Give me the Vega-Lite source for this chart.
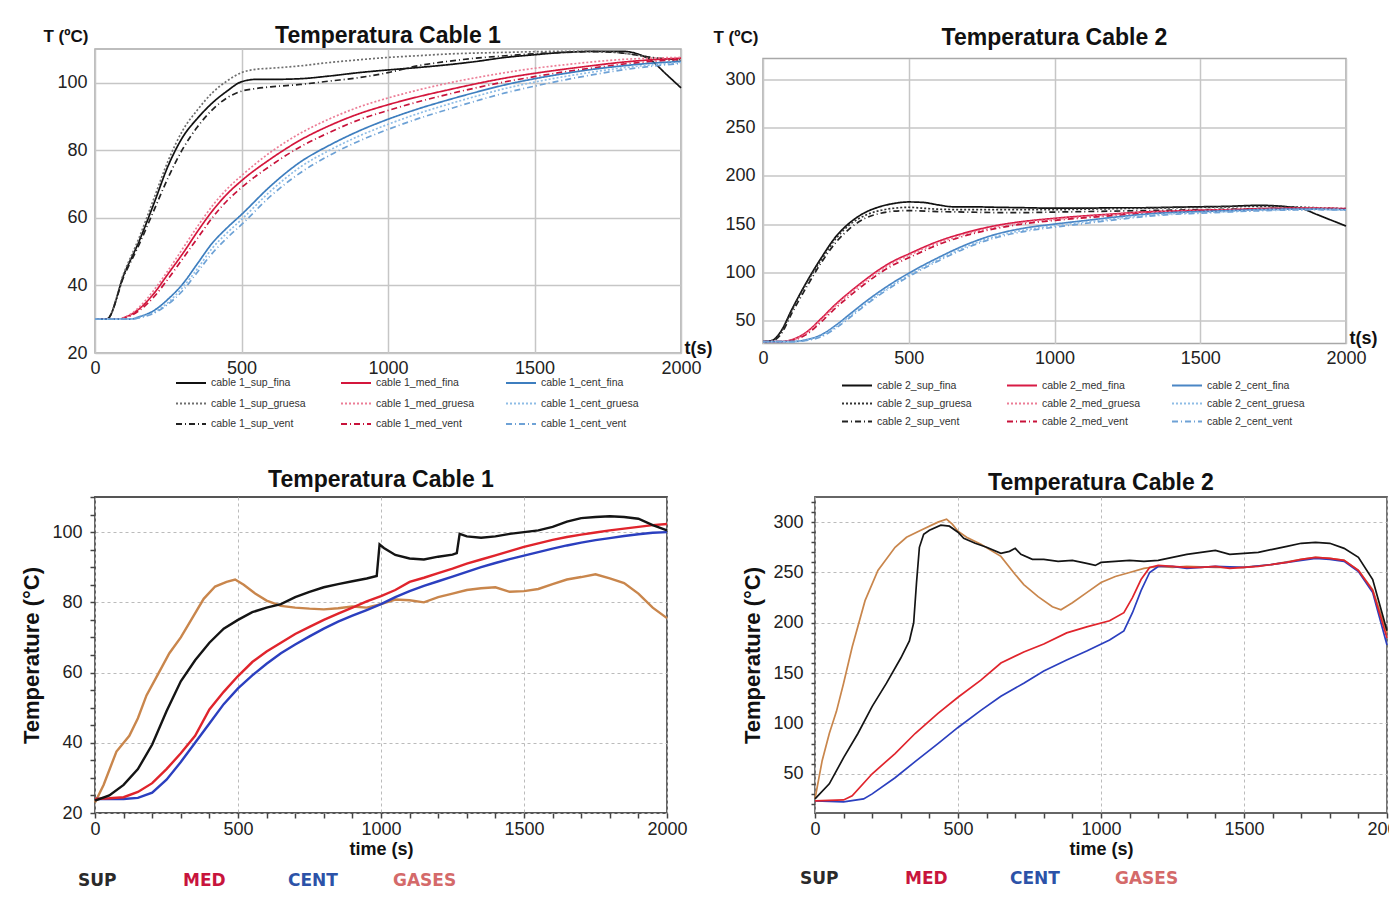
{
"$schema": "https://vega.github.io/schema/vega-lite/v6.json",
"background": "white",
"padding": {"left": 20, "top": 24, "right": 0, "bottom": 0},
"config": {
  "font": "Liberation Sans",
  "view": {"stroke": "#a8a8a8", "strokeWidth": 1.5},
  "axis": {"labelFont": "Liberation Sans", "labelFontSize": 18, "labelColor": "#222", "grid": true, "gridColor": "#c6c6c6", "gridWidth": 1.5, "domain": false, "ticks": false, "titleFont": "Liberation Sans", "titleFontWeight": "bold", "titleColor": "#111", "labelFlush": false, "labelOverlap": false},
  "title": {"font": "Liberation Sans", "fontSize": 23, "fontWeight": "bold", "color": "#111", "offset": 6},
  "line": {"strokeCap": "butt"}
},
"spacing": 36,
"resolve": {"scale": {"color": "independent", "strokeDash": "independent"}, "legend": {"color": "independent", "strokeDash": "independent"}},
"vconcat": [
 {"bounds": "flush", "spacing": 82, "center": true,
  "resolve": {"scale": {"color": "independent", "strokeDash": "independent"}, "legend": {"color": "independent", "strokeDash": "independent"}},
  "hconcat": [
  {"width": 586, "height": 304,
   "title": {"text": "Temperatura Cable 1", "offset": -21},
   "data": {"name": "tl"},
   "mark": {"type": "line", "strokeWidth": 1.7, "interpolate": "monotone"},
   "encoding": {
     "x": {"field": "t", "type": "quantitative", "scale": {"domain": [0, 2000], "nice": false}, "axis": {"values": [0, 500, 1000, 1500, 2000], "format": "d", "title": "t(s)", "titleX": 589, "titleY": -5, "titleAlign": "left", "titleBaseline": "middle", "titleFontSize": 18, "labelPadding": 6}},
     "y": {"field": "v", "type": "quantitative", "scale": {"domain": [20, 110], "nice": false, "zero": false}, "axis": {"values": [20, 40, 60, 80, 100], "title": "T (ºC)", "titleAngle": 0, "titleX": -52, "titleY": -13, "titleAlign": "left", "titleBaseline": "middle", "titleFontSize": 17, "labelPadding": 8}},
     "color": {"field": "s", "type": "nominal",
       "scale": {"domain": ["sup_fina", "sup_gruesa", "sup_vent", "med_fina", "med_gruesa", "med_vent", "cent_fina", "cent_gruesa", "cent_vent"], "range": ["#111111", "#6e6e6e", "#222222", "#d4163c", "#ec7d96", "#c8123a", "#3d7ebf", "#8fbde6", "#6ea2d6"]},
       "legend": {"orient": "none", "legendX": 80, "legendY": 327, "columns": 3, "title": null, "labelExpr": "'cable 1_' + datum.label", "labelFontSize": 10.5, "labelColor": "#333", "symbolType": "stroke", "symbolSize": 900, "symbolStrokeWidth": 1.8, "clipHeight": 14, "rowPadding": 6.5, "columnPadding": 30, "gridAlign": "all", "labelOffset": 4}},
     "strokeDash": {"field": "s", "type": "nominal",
       "scale": {"domain": ["sup_fina", "sup_gruesa", "sup_vent", "med_fina", "med_gruesa", "med_vent", "cent_fina", "cent_gruesa", "cent_vent"], "range": [[1, 0], [2, 2], [6, 3, 1, 3], [1, 0], [2, 2], [6, 3, 1, 3], [1, 0], [2, 2], [6, 3, 1, 3]]},
       "legend": {"orient": "none", "legendX": 80, "legendY": 327, "columns": 3, "title": null, "labelExpr": "'cable 1_' + datum.label", "labelFontSize": 10.5, "labelColor": "#333", "symbolType": "stroke", "symbolSize": 900, "symbolStrokeWidth": 1.8, "clipHeight": 14, "rowPadding": 6.5, "columnPadding": 30, "gridAlign": "all", "labelOffset": 4}}
   }
  },
  {"width": 583, "height": 285,
   "title": {"text": "Temperatura Cable 2", "offset": -21},
   "data": {"name": "tr"},
   "mark": {"type": "line", "strokeWidth": 1.7, "interpolate": "monotone"},
   "encoding": {
     "x": {"field": "t", "type": "quantitative", "scale": {"domain": [0, 2000], "nice": false}, "axis": {"values": [0, 500, 1000, 1500, 2000], "format": "d", "title": "t(s)", "titleX": 586, "titleY": -5, "titleAlign": "left", "titleBaseline": "middle", "titleFontSize": 18, "labelPadding": 6}},
     "y": {"field": "v", "type": "quantitative", "scale": {"domain": [26, 322], "nice": false, "zero": false}, "axis": {"values": [50, 100, 150, 200, 250, 300], "title": "T (ºC)", "titleAngle": 0, "titleX": -50, "titleY": -21, "titleAlign": "left", "titleBaseline": "middle", "titleFontSize": 17, "labelPadding": 8}},
     "color": {"field": "s", "type": "nominal",
       "scale": {"domain": ["sup_fina", "sup_gruesa", "sup_vent", "med_fina", "med_gruesa", "med_vent", "cent_fina", "cent_gruesa", "cent_vent"], "range": ["#111111", "#333333", "#222222", "#d81b45", "#ec7d96", "#c8123a", "#4a86c5", "#8fbde6", "#6ea2d6"]},
       "legend": {"orient": "none", "legendX": 78, "legendY": 320, "columns": 3, "title": null, "labelExpr": "'cable 2_' + datum.label", "labelFontSize": 10.5, "labelColor": "#333", "symbolType": "stroke", "symbolSize": 900, "symbolStrokeWidth": 1.8, "clipHeight": 14, "rowPadding": 4, "columnPadding": 30, "gridAlign": "all", "labelOffset": 4}},
     "strokeDash": {"field": "s", "type": "nominal",
       "scale": {"domain": ["sup_fina", "sup_gruesa", "sup_vent", "med_fina", "med_gruesa", "med_vent", "cent_fina", "cent_gruesa", "cent_vent"], "range": [[1, 0], [2, 2], [6, 3, 1, 3], [1, 0], [2, 2], [6, 3, 1, 3], [1, 0], [2, 2], [6, 3, 1, 3]]},
       "legend": {"orient": "none", "legendX": 78, "legendY": 320, "columns": 3, "title": null, "labelExpr": "'cable 2_' + datum.label", "labelFontSize": 10.5, "labelColor": "#333", "symbolType": "stroke", "symbolSize": 900, "symbolStrokeWidth": 1.8, "clipHeight": 14, "rowPadding": 4, "columnPadding": 30, "gridAlign": "all", "labelOffset": 4}}
   }
  }
 ]},
 {"bounds": "flush", "spacing": 148,
  "resolve": {"scale": {"color": "independent", "strokeDash": "independent"}, "legend": {"color": "independent", "strokeDash": "independent"}},
  "hconcat": [
  {"width": 572, "height": 316,
   "title": {"text": "Temperatura Cable 1", "offset": -4},
   "data": {"name": "bl"},
   "view": {"stroke": "#555", "strokeWidth": 1.8},
   "mark": {"type": "line", "strokeWidth": 2.4},
   "encoding": {
     "x": {"field": "t", "type": "quantitative", "scale": {"domain": [0, 2000], "nice": false}, "axis": {"values": [0, 100, 200, 300, 400, 500, 600, 700, 800, 900, 1000, 1100, 1200, 1300, 1400, 1500, 1600, 1700, 1800, 1900, 2000], "format": "d", "labelExpr": "datum.value % 500 == 0 ? datum.label : ''", "gridOpacity": {"condition": {"test": "datum.value % 500 == 0", "value": 1}, "value": 0}, "gridColor": "#bbbbbb", "gridDash": [3, 3], "gridWidth": 1, "ticks": true, "tickSize": 5, "tickColor": "#444", "tickWidth": 1.5, "title": "time (s)", "titleFontSize": 18, "titlePadding": 2, "labelPadding": 2}},
     "y": {"field": "v", "type": "quantitative", "scale": {"domain": [20, 110], "nice": false, "zero": false}, "axis": {"values": [20, 25, 30, 35, 40, 45, 50, 55, 60, 65, 70, 75, 80, 85, 90, 95, 100, 105, 110], "labelExpr": "datum.value % 20 == 0 ? datum.label : ''", "gridOpacity": {"condition": {"test": "datum.value % 20 == 0", "value": 1}, "value": 0}, "gridColor": "#bbbbbb", "gridDash": [3, 3], "gridWidth": 1, "ticks": true, "tickSize": 5, "tickColor": "#444", "tickWidth": 1.5, "title": "Temperature (°C)", "titleFontSize": 22, "titlePadding": 8, "labelPadding": 8}},
     "color": {"field": "s", "type": "nominal",
       "scale": {"domain": ["SUP", "MED", "CENT", "GASES"], "range": ["#141414", "#e0242c", "#2b3fbf", "#c9864c"]},
       "legend": {"orient": "none", "legendX": -34, "legendY": 375, "direction": "horizontal", "columns": 4, "title": null, "symbolOpacity": 0, "symbolSize": 1, "symbolStrokeWidth": 0, "labelOffset": 0, "labelFont": "DejaVu Sans", "labelFontSize": 17, "labelFontWeight": "bold", "columnPadding": 24, "gridAlign": "all",
         "encode": {"labels": {"update": {"fill": {"signal": "datum.value == 'SUP' ? '#2a2a2a' : datum.value == 'MED' ? '#c8143c' : datum.value == 'CENT' ? '#2c52a8' : '#d46a6a'"}}}}}}
   }
  },
  {"width": 572, "height": 316,
   "title": {"text": "Temperatura Cable 2", "offset": -2},
   "data": {"name": "br"},
   "view": {"stroke": "#666", "strokeWidth": 1.8},
   "mark": {"type": "line", "strokeWidth": 1.7},
   "encoding": {
     "x": {"field": "t", "type": "quantitative", "scale": {"domain": [0, 2000], "nice": false}, "axis": {"values": [0, 100, 200, 300, 400, 500, 600, 700, 800, 900, 1000, 1100, 1200, 1300, 1400, 1500, 1600, 1700, 1800, 1900, 2000], "format": "d", "labelExpr": "datum.value % 500 == 0 ? datum.label : ''", "gridOpacity": {"condition": {"test": "datum.value % 500 == 0", "value": 1}, "value": 0}, "gridColor": "#bbbbbb", "gridDash": [3, 3], "gridWidth": 1, "ticks": true, "tickSize": 5, "tickColor": "#444", "tickWidth": 1.5, "title": "time (s)", "titleFontSize": 18, "titlePadding": 2, "labelPadding": 2}},
     "y": {"field": "v", "type": "quantitative", "scale": {"domain": [11, 325], "nice": false, "zero": false}, "axis": {"values": [20, 30, 40, 50, 60, 70, 80, 90, 100, 110, 120, 130, 140, 150, 160, 170, 180, 190, 200, 210, 220, 230, 240, 250, 260, 270, 280, 290, 300, 310, 320], "labelExpr": "datum.value % 50 == 0 ? datum.label : ''", "gridOpacity": {"condition": {"test": "datum.value % 50 == 0", "value": 1}, "value": 0}, "gridColor": "#bbbbbb", "gridDash": [3, 3], "gridWidth": 1, "ticks": true, "tickSize": 4, "tickColor": "#444", "tickWidth": 1.5, "title": "Temperature (°C)", "titleFontSize": 22, "titlePadding": 8, "labelPadding": 8}},
     "color": {"field": "s", "type": "nominal",
       "scale": {"domain": ["SUP", "MED", "CENT", "GASES"], "range": ["#141414", "#e0242c", "#2b3fbf", "#c9864c"]},
       "legend": {"orient": "none", "legendX": -32, "legendY": 373, "direction": "horizontal", "columns": 4, "title": null, "symbolOpacity": 0, "symbolSize": 1, "symbolStrokeWidth": 0, "labelOffset": 0, "labelFont": "DejaVu Sans", "labelFontSize": 17, "labelFontWeight": "bold", "columnPadding": 24, "gridAlign": "all",
         "encode": {"labels": {"update": {"fill": {"signal": "datum.value == 'SUP' ? '#2a2a2a' : datum.value == 'MED' ? '#c8143c' : datum.value == 'CENT' ? '#2c52a8' : '#d46a6a'"}}}}}}
   }
  }
 ]}
],
"datasets": {
 "tl": [
  {"s":"sup_fina","t":0,"v":30},{"s":"sup_fina","t":40,"v":30},{"s":"sup_fina","t":100,"v":43.5},{"s":"sup_fina","t":150,"v":53},{"s":"sup_fina","t":200,"v":64},{"s":"sup_fina","t":250,"v":75.5},{"s":"sup_fina","t":300,"v":84},{"s":"sup_fina","t":350,"v":89.5},{"s":"sup_fina","t":400,"v":94},{"s":"sup_fina","t":450,"v":97.5},{"s":"sup_fina","t":500,"v":100.3},{"s":"sup_fina","t":550,"v":101},{"s":"sup_fina","t":600,"v":101},{"s":"sup_fina","t":700,"v":101.2},{"s":"sup_fina","t":800,"v":102},{"s":"sup_fina","t":900,"v":103},{"s":"sup_fina","t":1000,"v":103.8},{"s":"sup_fina","t":1100,"v":104.5},{"s":"sup_fina","t":1200,"v":105.3},{"s":"sup_fina","t":1300,"v":106.3},{"s":"sup_fina","t":1400,"v":107.5},{"s":"sup_fina","t":1500,"v":108.3},{"s":"sup_fina","t":1600,"v":109},{"s":"sup_fina","t":1700,"v":109.3},{"s":"sup_fina","t":1800,"v":109.3},{"s":"sup_fina","t":1850,"v":108.6},{"s":"sup_fina","t":1900,"v":106.5},{"s":"sup_fina","t":1950,"v":102.5},{"s":"sup_fina","t":2000,"v":98.5},
  {"s":"sup_gruesa","t":0,"v":30},{"s":"sup_gruesa","t":40,"v":30},{"s":"sup_gruesa","t":100,"v":44},{"s":"sup_gruesa","t":150,"v":54},{"s":"sup_gruesa","t":200,"v":65.5},{"s":"sup_gruesa","t":250,"v":77},{"s":"sup_gruesa","t":300,"v":86},{"s":"sup_gruesa","t":350,"v":92},{"s":"sup_gruesa","t":400,"v":97},{"s":"sup_gruesa","t":450,"v":100.5},{"s":"sup_gruesa","t":500,"v":103},{"s":"sup_gruesa","t":550,"v":104},{"s":"sup_gruesa","t":600,"v":104.3},{"s":"sup_gruesa","t":700,"v":105},{"s":"sup_gruesa","t":800,"v":106},{"s":"sup_gruesa","t":900,"v":106.8},{"s":"sup_gruesa","t":1000,"v":107.5},{"s":"sup_gruesa","t":1100,"v":108},{"s":"sup_gruesa","t":1200,"v":108.5},{"s":"sup_gruesa","t":1300,"v":108.8},{"s":"sup_gruesa","t":1400,"v":109},{"s":"sup_gruesa","t":1500,"v":109.2},{"s":"sup_gruesa","t":1600,"v":109.3},{"s":"sup_gruesa","t":1700,"v":109.3},{"s":"sup_gruesa","t":1800,"v":108.8},{"s":"sup_gruesa","t":1900,"v":107.5},{"s":"sup_gruesa","t":2000,"v":106.5},
  {"s":"sup_vent","t":0,"v":30},{"s":"sup_vent","t":40,"v":30},{"s":"sup_vent","t":100,"v":43},{"s":"sup_vent","t":150,"v":52},{"s":"sup_vent","t":200,"v":62},{"s":"sup_vent","t":250,"v":72},{"s":"sup_vent","t":300,"v":80.5},{"s":"sup_vent","t":350,"v":87},{"s":"sup_vent","t":400,"v":92},{"s":"sup_vent","t":450,"v":95.5},{"s":"sup_vent","t":500,"v":97.5},{"s":"sup_vent","t":550,"v":98.3},{"s":"sup_vent","t":600,"v":98.8},{"s":"sup_vent","t":700,"v":99.5},{"s":"sup_vent","t":800,"v":100.5},{"s":"sup_vent","t":900,"v":101.5},{"s":"sup_vent","t":1000,"v":103},{"s":"sup_vent","t":1100,"v":105},{"s":"sup_vent","t":1200,"v":106.3},{"s":"sup_vent","t":1300,"v":107.3},{"s":"sup_vent","t":1400,"v":108},{"s":"sup_vent","t":1500,"v":108.6},{"s":"sup_vent","t":1600,"v":109},{"s":"sup_vent","t":1700,"v":109.2},{"s":"sup_vent","t":1800,"v":108.8},{"s":"sup_vent","t":1900,"v":107.5},{"s":"sup_vent","t":2000,"v":106.8},
  {"s":"med_fina","t":0,"v":30},{"s":"med_fina","t":80,"v":30},{"s":"med_fina","t":100,"v":30.5},{"s":"med_fina","t":150,"v":33},{"s":"med_fina","t":200,"v":37.5},{"s":"med_fina","t":250,"v":43.5},{"s":"med_fina","t":300,"v":49.5},{"s":"med_fina","t":350,"v":56},{"s":"med_fina","t":400,"v":62},{"s":"med_fina","t":450,"v":67},{"s":"med_fina","t":500,"v":71},{"s":"med_fina","t":600,"v":77.5},{"s":"med_fina","t":700,"v":83},{"s":"med_fina","t":800,"v":87.3},{"s":"med_fina","t":900,"v":90.8},{"s":"med_fina","t":1000,"v":93.5},{"s":"med_fina","t":1100,"v":95.8},{"s":"med_fina","t":1200,"v":97.8},{"s":"med_fina","t":1300,"v":99.7},{"s":"med_fina","t":1400,"v":101.4},{"s":"med_fina","t":1500,"v":102.8},{"s":"med_fina","t":1600,"v":104},{"s":"med_fina","t":1700,"v":105.1},{"s":"med_fina","t":1800,"v":106.1},{"s":"med_fina","t":1900,"v":106.8},{"s":"med_fina","t":2000,"v":107.3},
  {"s":"med_gruesa","t":0,"v":30},{"s":"med_gruesa","t":80,"v":30},{"s":"med_gruesa","t":100,"v":30.5},{"s":"med_gruesa","t":150,"v":33.5},{"s":"med_gruesa","t":200,"v":38.5},{"s":"med_gruesa","t":250,"v":44.5},{"s":"med_gruesa","t":300,"v":51},{"s":"med_gruesa","t":350,"v":57.5},{"s":"med_gruesa","t":400,"v":63.5},{"s":"med_gruesa","t":450,"v":68.5},{"s":"med_gruesa","t":500,"v":72.5},{"s":"med_gruesa","t":600,"v":79.5},{"s":"med_gruesa","t":700,"v":85},{"s":"med_gruesa","t":800,"v":89.3},{"s":"med_gruesa","t":900,"v":92.8},{"s":"med_gruesa","t":1000,"v":95.5},{"s":"med_gruesa","t":1100,"v":97.8},{"s":"med_gruesa","t":1200,"v":99.8},{"s":"med_gruesa","t":1300,"v":101.5},{"s":"med_gruesa","t":1400,"v":103},{"s":"med_gruesa","t":1500,"v":104.3},{"s":"med_gruesa","t":1600,"v":105.3},{"s":"med_gruesa","t":1700,"v":106.2},{"s":"med_gruesa","t":1800,"v":106.9},{"s":"med_gruesa","t":1900,"v":107.3},{"s":"med_gruesa","t":2000,"v":107.5},
  {"s":"med_vent","t":0,"v":30},{"s":"med_vent","t":80,"v":30},{"s":"med_vent","t":100,"v":30.3},{"s":"med_vent","t":150,"v":32.5},{"s":"med_vent","t":200,"v":36.5},{"s":"med_vent","t":250,"v":42},{"s":"med_vent","t":300,"v":48},{"s":"med_vent","t":350,"v":54},{"s":"med_vent","t":400,"v":60},{"s":"med_vent","t":450,"v":65},{"s":"med_vent","t":500,"v":69},{"s":"med_vent","t":600,"v":75.5},{"s":"med_vent","t":700,"v":81},{"s":"med_vent","t":800,"v":85.3},{"s":"med_vent","t":900,"v":89},{"s":"med_vent","t":1000,"v":91.8},{"s":"med_vent","t":1100,"v":94.3},{"s":"med_vent","t":1200,"v":96.5},{"s":"med_vent","t":1300,"v":98.5},{"s":"med_vent","t":1400,"v":100.3},{"s":"med_vent","t":1500,"v":101.8},{"s":"med_vent","t":1600,"v":103.2},{"s":"med_vent","t":1700,"v":104.4},{"s":"med_vent","t":1800,"v":105.5},{"s":"med_vent","t":1900,"v":106.3},{"s":"med_vent","t":2000,"v":107},
  {"s":"cent_fina","t":0,"v":30},{"s":"cent_fina","t":120,"v":30},{"s":"cent_fina","t":150,"v":30.7},{"s":"cent_fina","t":200,"v":32.5},{"s":"cent_fina","t":250,"v":36},{"s":"cent_fina","t":300,"v":40.5},{"s":"cent_fina","t":350,"v":46.5},{"s":"cent_fina","t":400,"v":52.5},{"s":"cent_fina","t":450,"v":57},{"s":"cent_fina","t":500,"v":61},{"s":"cent_fina","t":600,"v":69.5},{"s":"cent_fina","t":700,"v":76.5},{"s":"cent_fina","t":800,"v":81.5},{"s":"cent_fina","t":900,"v":85.7},{"s":"cent_fina","t":1000,"v":89.2},{"s":"cent_fina","t":1100,"v":92.2},{"s":"cent_fina","t":1200,"v":94.8},{"s":"cent_fina","t":1300,"v":97.2},{"s":"cent_fina","t":1400,"v":99.4},{"s":"cent_fina","t":1500,"v":101.2},{"s":"cent_fina","t":1600,"v":102.7},{"s":"cent_fina","t":1700,"v":104},{"s":"cent_fina","t":1800,"v":105},{"s":"cent_fina","t":1900,"v":105.8},{"s":"cent_fina","t":2000,"v":106.3},
  {"s":"cent_gruesa","t":0,"v":30},{"s":"cent_gruesa","t":120,"v":30},{"s":"cent_gruesa","t":150,"v":30.5},{"s":"cent_gruesa","t":200,"v":32},{"s":"cent_gruesa","t":250,"v":35},{"s":"cent_gruesa","t":300,"v":39.5},{"s":"cent_gruesa","t":350,"v":45},{"s":"cent_gruesa","t":400,"v":51},{"s":"cent_gruesa","t":450,"v":55.5},{"s":"cent_gruesa","t":500,"v":59.5},{"s":"cent_gruesa","t":600,"v":68},{"s":"cent_gruesa","t":700,"v":75},{"s":"cent_gruesa","t":800,"v":80},{"s":"cent_gruesa","t":900,"v":84.2},{"s":"cent_gruesa","t":1000,"v":87.7},{"s":"cent_gruesa","t":1100,"v":90.8},{"s":"cent_gruesa","t":1200,"v":93.5},{"s":"cent_gruesa","t":1300,"v":96},{"s":"cent_gruesa","t":1400,"v":98.3},{"s":"cent_gruesa","t":1500,"v":100.2},{"s":"cent_gruesa","t":1600,"v":101.8},{"s":"cent_gruesa","t":1700,"v":103.2},{"s":"cent_gruesa","t":1800,"v":104.4},{"s":"cent_gruesa","t":1900,"v":105.3},{"s":"cent_gruesa","t":2000,"v":106},
  {"s":"cent_vent","t":0,"v":30},{"s":"cent_vent","t":120,"v":30},{"s":"cent_vent","t":150,"v":30.4},{"s":"cent_vent","t":200,"v":31.7},{"s":"cent_vent","t":250,"v":34.5},{"s":"cent_vent","t":300,"v":38.5},{"s":"cent_vent","t":350,"v":44},{"s":"cent_vent","t":400,"v":49.5},{"s":"cent_vent","t":450,"v":54},{"s":"cent_vent","t":500,"v":58},{"s":"cent_vent","t":600,"v":66.5},{"s":"cent_vent","t":700,"v":73.3},{"s":"cent_vent","t":800,"v":78.5},{"s":"cent_vent","t":900,"v":82.7},{"s":"cent_vent","t":1000,"v":86.2},{"s":"cent_vent","t":1100,"v":89.3},{"s":"cent_vent","t":1200,"v":92},{"s":"cent_vent","t":1300,"v":94.6},{"s":"cent_vent","t":1400,"v":97},{"s":"cent_vent","t":1500,"v":99},{"s":"cent_vent","t":1600,"v":100.8},{"s":"cent_vent","t":1700,"v":102.4},{"s":"cent_vent","t":1800,"v":103.8},{"s":"cent_vent","t":1900,"v":104.9},{"s":"cent_vent","t":2000,"v":105.7}
 ],
 "tr": [
  {"s":"sup_fina","t":0,"v":28},{"s":"sup_fina","t":30,"v":29},{"s":"sup_fina","t":60,"v":38},{"s":"sup_fina","t":100,"v":62},{"s":"sup_fina","t":150,"v":90},{"s":"sup_fina","t":200,"v":115},{"s":"sup_fina","t":250,"v":137},{"s":"sup_fina","t":300,"v":152},{"s":"sup_fina","t":350,"v":162},{"s":"sup_fina","t":400,"v":168},{"s":"sup_fina","t":450,"v":171.5},{"s":"sup_fina","t":500,"v":173},{"s":"sup_fina","t":550,"v":172.5},{"s":"sup_fina","t":600,"v":170},{"s":"sup_fina","t":650,"v":168},{"s":"sup_fina","t":700,"v":168},{"s":"sup_fina","t":800,"v":167.5},{"s":"sup_fina","t":900,"v":167},{"s":"sup_fina","t":1000,"v":166.5},{"s":"sup_fina","t":1100,"v":166.5},{"s":"sup_fina","t":1200,"v":167},{"s":"sup_fina","t":1300,"v":167},{"s":"sup_fina","t":1400,"v":167.5},{"s":"sup_fina","t":1500,"v":168},{"s":"sup_fina","t":1600,"v":168.5},{"s":"sup_fina","t":1700,"v":169.5},{"s":"sup_fina","t":1800,"v":168},{"s":"sup_fina","t":1850,"v":166},{"s":"sup_fina","t":1900,"v":160},{"s":"sup_fina","t":1950,"v":154},{"s":"sup_fina","t":2000,"v":148},
  {"s":"sup_gruesa","t":0,"v":28},{"s":"sup_gruesa","t":30,"v":29},{"s":"sup_gruesa","t":60,"v":37},{"s":"sup_gruesa","t":100,"v":61},{"s":"sup_gruesa","t":150,"v":89},{"s":"sup_gruesa","t":200,"v":113},{"s":"sup_gruesa","t":250,"v":135},{"s":"sup_gruesa","t":300,"v":150},{"s":"sup_gruesa","t":350,"v":159},{"s":"sup_gruesa","t":400,"v":164},{"s":"sup_gruesa","t":450,"v":166.5},{"s":"sup_gruesa","t":500,"v":167.5},{"s":"sup_gruesa","t":550,"v":166.5},{"s":"sup_gruesa","t":600,"v":165.5},{"s":"sup_gruesa","t":700,"v":165},{"s":"sup_gruesa","t":800,"v":165},{"s":"sup_gruesa","t":900,"v":165},{"s":"sup_gruesa","t":1000,"v":165},{"s":"sup_gruesa","t":1100,"v":165.5},{"s":"sup_gruesa","t":1200,"v":166},{"s":"sup_gruesa","t":1300,"v":166.5},{"s":"sup_gruesa","t":1400,"v":167},{"s":"sup_gruesa","t":1500,"v":167.5},{"s":"sup_gruesa","t":1600,"v":168},{"s":"sup_gruesa","t":1700,"v":168.5},{"s":"sup_gruesa","t":1800,"v":168},{"s":"sup_gruesa","t":1900,"v":167},{"s":"sup_gruesa","t":2000,"v":166},
  {"s":"sup_vent","t":0,"v":28},{"s":"sup_vent","t":30,"v":28.5},{"s":"sup_vent","t":60,"v":35},{"s":"sup_vent","t":100,"v":58},{"s":"sup_vent","t":150,"v":85},{"s":"sup_vent","t":200,"v":110},{"s":"sup_vent","t":250,"v":131},{"s":"sup_vent","t":300,"v":146},{"s":"sup_vent","t":350,"v":156},{"s":"sup_vent","t":400,"v":161},{"s":"sup_vent","t":450,"v":163.5},{"s":"sup_vent","t":500,"v":164},{"s":"sup_vent","t":600,"v":163},{"s":"sup_vent","t":700,"v":162.5},{"s":"sup_vent","t":800,"v":162},{"s":"sup_vent","t":900,"v":162},{"s":"sup_vent","t":1000,"v":162.5},{"s":"sup_vent","t":1100,"v":163},{"s":"sup_vent","t":1200,"v":163.5},{"s":"sup_vent","t":1300,"v":164},{"s":"sup_vent","t":1400,"v":164.5},{"s":"sup_vent","t":1500,"v":165},{"s":"sup_vent","t":1600,"v":165.5},{"s":"sup_vent","t":1700,"v":166},{"s":"sup_vent","t":1800,"v":166.5},{"s":"sup_vent","t":1900,"v":166},{"s":"sup_vent","t":2000,"v":165.5},
  {"s":"med_fina","t":0,"v":28},{"s":"med_fina","t":60,"v":28},{"s":"med_fina","t":100,"v":30},{"s":"med_fina","t":150,"v":38},{"s":"med_fina","t":200,"v":52},{"s":"med_fina","t":250,"v":67},{"s":"med_fina","t":300,"v":80},{"s":"med_fina","t":350,"v":92},{"s":"med_fina","t":400,"v":103},{"s":"med_fina","t":450,"v":112},{"s":"med_fina","t":500,"v":119},{"s":"med_fina","t":600,"v":132},{"s":"med_fina","t":700,"v":141.5},{"s":"med_fina","t":800,"v":148.5},{"s":"med_fina","t":900,"v":153},{"s":"med_fina","t":1000,"v":156},{"s":"med_fina","t":1100,"v":158.5},{"s":"med_fina","t":1200,"v":160.5},{"s":"med_fina","t":1300,"v":162.5},{"s":"med_fina","t":1400,"v":163.5},{"s":"med_fina","t":1500,"v":164.5},{"s":"med_fina","t":1600,"v":165},{"s":"med_fina","t":1700,"v":166},{"s":"med_fina","t":1800,"v":166.5},{"s":"med_fina","t":1900,"v":166.5},{"s":"med_fina","t":2000,"v":166},
  {"s":"med_gruesa","t":0,"v":28},{"s":"med_gruesa","t":60,"v":28},{"s":"med_gruesa","t":100,"v":29.5},{"s":"med_gruesa","t":150,"v":37},{"s":"med_gruesa","t":200,"v":50.5},{"s":"med_gruesa","t":250,"v":65.5},{"s":"med_gruesa","t":300,"v":78.5},{"s":"med_gruesa","t":350,"v":90.5},{"s":"med_gruesa","t":400,"v":101.5},{"s":"med_gruesa","t":450,"v":110.5},{"s":"med_gruesa","t":500,"v":117.5},{"s":"med_gruesa","t":600,"v":130.5},{"s":"med_gruesa","t":700,"v":140},{"s":"med_gruesa","t":800,"v":147},{"s":"med_gruesa","t":900,"v":151.8},{"s":"med_gruesa","t":1000,"v":155},{"s":"med_gruesa","t":1100,"v":157.5},{"s":"med_gruesa","t":1200,"v":159.8},{"s":"med_gruesa","t":1300,"v":161.8},{"s":"med_gruesa","t":1400,"v":163},{"s":"med_gruesa","t":1500,"v":164},{"s":"med_gruesa","t":1600,"v":164.8},{"s":"med_gruesa","t":1700,"v":165.6},{"s":"med_gruesa","t":1800,"v":166.2},{"s":"med_gruesa","t":1900,"v":166.3},{"s":"med_gruesa","t":2000,"v":166},
  {"s":"med_vent","t":0,"v":28},{"s":"med_vent","t":60,"v":28},{"s":"med_vent","t":100,"v":29.2},{"s":"med_vent","t":150,"v":35.5},{"s":"med_vent","t":200,"v":48.5},{"s":"med_vent","t":250,"v":63},{"s":"med_vent","t":300,"v":76},{"s":"med_vent","t":350,"v":88},{"s":"med_vent","t":400,"v":99},{"s":"med_vent","t":450,"v":108},{"s":"med_vent","t":500,"v":115},{"s":"med_vent","t":600,"v":128.5},{"s":"med_vent","t":700,"v":138.5},{"s":"med_vent","t":800,"v":145.5},{"s":"med_vent","t":900,"v":150.5},{"s":"med_vent","t":1000,"v":153.8},{"s":"med_vent","t":1100,"v":156.5},{"s":"med_vent","t":1200,"v":158.8},{"s":"med_vent","t":1300,"v":161},{"s":"med_vent","t":1400,"v":162.3},{"s":"med_vent","t":1500,"v":163.5},{"s":"med_vent","t":1600,"v":164.3},{"s":"med_vent","t":1700,"v":165.3},{"s":"med_vent","t":1800,"v":166},{"s":"med_vent","t":1900,"v":166.2},{"s":"med_vent","t":2000,"v":165.8},
  {"s":"cent_fina","t":0,"v":28},{"s":"cent_fina","t":100,"v":28},{"s":"cent_fina","t":150,"v":30},{"s":"cent_fina","t":200,"v":35},{"s":"cent_fina","t":250,"v":45},{"s":"cent_fina","t":300,"v":57},{"s":"cent_fina","t":350,"v":69},{"s":"cent_fina","t":400,"v":80},{"s":"cent_fina","t":450,"v":90},{"s":"cent_fina","t":500,"v":99},{"s":"cent_fina","t":600,"v":115},{"s":"cent_fina","t":700,"v":129},{"s":"cent_fina","t":800,"v":139.5},{"s":"cent_fina","t":900,"v":146},{"s":"cent_fina","t":1000,"v":150},{"s":"cent_fina","t":1100,"v":153.5},{"s":"cent_fina","t":1200,"v":157},{"s":"cent_fina","t":1300,"v":160},{"s":"cent_fina","t":1400,"v":162},{"s":"cent_fina","t":1500,"v":163},{"s":"cent_fina","t":1600,"v":164},{"s":"cent_fina","t":1700,"v":165},{"s":"cent_fina","t":1800,"v":165.5},{"s":"cent_fina","t":1900,"v":165.5},{"s":"cent_fina","t":2000,"v":165},
  {"s":"cent_gruesa","t":0,"v":28},{"s":"cent_gruesa","t":100,"v":28},{"s":"cent_gruesa","t":150,"v":29.5},{"s":"cent_gruesa","t":200,"v":34},{"s":"cent_gruesa","t":250,"v":43.5},{"s":"cent_gruesa","t":300,"v":55},{"s":"cent_gruesa","t":350,"v":67},{"s":"cent_gruesa","t":400,"v":78},{"s":"cent_gruesa","t":450,"v":88},{"s":"cent_gruesa","t":500,"v":97},{"s":"cent_gruesa","t":600,"v":113},{"s":"cent_gruesa","t":700,"v":127},{"s":"cent_gruesa","t":800,"v":137.5},{"s":"cent_gruesa","t":900,"v":144},{"s":"cent_gruesa","t":1000,"v":148.2},{"s":"cent_gruesa","t":1100,"v":152},{"s":"cent_gruesa","t":1200,"v":155.5},{"s":"cent_gruesa","t":1300,"v":158.6},{"s":"cent_gruesa","t":1400,"v":160.8},{"s":"cent_gruesa","t":1500,"v":162},{"s":"cent_gruesa","t":1600,"v":163.2},{"s":"cent_gruesa","t":1700,"v":164.3},{"s":"cent_gruesa","t":1800,"v":165},{"s":"cent_gruesa","t":1900,"v":165.2},{"s":"cent_gruesa","t":2000,"v":164.8},
  {"s":"cent_vent","t":0,"v":28},{"s":"cent_vent","t":100,"v":28},{"s":"cent_vent","t":150,"v":29.2},{"s":"cent_vent","t":200,"v":33},{"s":"cent_vent","t":250,"v":42},{"s":"cent_vent","t":300,"v":53.5},{"s":"cent_vent","t":350,"v":65.5},{"s":"cent_vent","t":400,"v":76.5},{"s":"cent_vent","t":450,"v":86.5},{"s":"cent_vent","t":500,"v":95.5},{"s":"cent_vent","t":600,"v":111.5},{"s":"cent_vent","t":700,"v":125.5},{"s":"cent_vent","t":800,"v":136},{"s":"cent_vent","t":900,"v":142.5},{"s":"cent_vent","t":1000,"v":146.8},{"s":"cent_vent","t":1100,"v":150.5},{"s":"cent_vent","t":1200,"v":154.2},{"s":"cent_vent","t":1300,"v":157.5},{"s":"cent_vent","t":1400,"v":160},{"s":"cent_vent","t":1500,"v":161.3},{"s":"cent_vent","t":1600,"v":162.6},{"s":"cent_vent","t":1700,"v":163.8},{"s":"cent_vent","t":1800,"v":164.6},{"s":"cent_vent","t":1900,"v":164.9},{"s":"cent_vent","t":2000,"v":164.6}
 ],
 "bl": [
  {"s":"GASES","t":0,"v":23},{"s":"GASES","t":30,"v":28},{"s":"GASES","t":75,"v":37.5},{"s":"GASES","t":120,"v":42},{"s":"GASES","t":150,"v":47},{"s":"GASES","t":180,"v":53.5},{"s":"GASES","t":220,"v":59.5},{"s":"GASES","t":260,"v":65.5},{"s":"GASES","t":300,"v":70},{"s":"GASES","t":340,"v":75.5},{"s":"GASES","t":380,"v":81},{"s":"GASES","t":420,"v":84.5},{"s":"GASES","t":460,"v":85.8},{"s":"GASES","t":490,"v":86.5},{"s":"GASES","t":520,"v":85},{"s":"GASES","t":560,"v":82.5},{"s":"GASES","t":600,"v":80.5},{"s":"GASES","t":650,"v":79},{"s":"GASES","t":700,"v":78.5},{"s":"GASES","t":750,"v":78.2},{"s":"GASES","t":800,"v":78},{"s":"GASES","t":850,"v":78.3},{"s":"GASES","t":900,"v":78.8},{"s":"GASES","t":950,"v":78.5},{"s":"GASES","t":1000,"v":79.5},{"s":"GASES","t":1050,"v":80.8},{"s":"GASES","t":1100,"v":80.6},{"s":"GASES","t":1150,"v":80},{"s":"GASES","t":1200,"v":81.5},{"s":"GASES","t":1250,"v":82.5},{"s":"GASES","t":1300,"v":83.5},{"s":"GASES","t":1350,"v":84},{"s":"GASES","t":1400,"v":84.3},{"s":"GASES","t":1450,"v":83},{"s":"GASES","t":1500,"v":83.2},{"s":"GASES","t":1550,"v":83.8},{"s":"GASES","t":1600,"v":85.2},{"s":"GASES","t":1650,"v":86.5},{"s":"GASES","t":1700,"v":87.2},{"s":"GASES","t":1750,"v":88},{"s":"GASES","t":1800,"v":86.8},{"s":"GASES","t":1850,"v":85.5},{"s":"GASES","t":1900,"v":82.5},{"s":"GASES","t":1950,"v":78.5},{"s":"GASES","t":2000,"v":75.5},
  {"s":"CENT","t":0,"v":24},{"s":"CENT","t":50,"v":24},{"s":"CENT","t":100,"v":24},{"s":"CENT","t":150,"v":24.3},{"s":"CENT","t":200,"v":25.8},{"s":"CENT","t":250,"v":29.5},{"s":"CENT","t":300,"v":34.5},{"s":"CENT","t":350,"v":40},{"s":"CENT","t":400,"v":45.5},{"s":"CENT","t":450,"v":51},{"s":"CENT","t":500,"v":55.5},{"s":"CENT","t":550,"v":59.2},{"s":"CENT","t":600,"v":62.5},{"s":"CENT","t":650,"v":65.5},{"s":"CENT","t":700,"v":68},{"s":"CENT","t":750,"v":70.3},{"s":"CENT","t":800,"v":72.5},{"s":"CENT","t":850,"v":74.5},{"s":"CENT","t":900,"v":76.2},{"s":"CENT","t":950,"v":77.8},{"s":"CENT","t":1000,"v":79.5},{"s":"CENT","t":1050,"v":81.5},{"s":"CENT","t":1100,"v":83.2},{"s":"CENT","t":1150,"v":84.7},{"s":"CENT","t":1200,"v":86},{"s":"CENT","t":1250,"v":87.3},{"s":"CENT","t":1300,"v":88.7},{"s":"CENT","t":1350,"v":90},{"s":"CENT","t":1400,"v":91.2},{"s":"CENT","t":1450,"v":92.3},{"s":"CENT","t":1500,"v":93.3},{"s":"CENT","t":1550,"v":94.3},{"s":"CENT","t":1600,"v":95.3},{"s":"CENT","t":1650,"v":96.2},{"s":"CENT","t":1700,"v":97},{"s":"CENT","t":1750,"v":97.7},{"s":"CENT","t":1800,"v":98.3},{"s":"CENT","t":1850,"v":98.9},{"s":"CENT","t":1900,"v":99.4},{"s":"CENT","t":1950,"v":99.8},{"s":"CENT","t":2000,"v":100},
  {"s":"MED","t":0,"v":24},{"s":"MED","t":50,"v":24.2},{"s":"MED","t":100,"v":24.5},{"s":"MED","t":150,"v":26},{"s":"MED","t":200,"v":28.5},{"s":"MED","t":250,"v":32.5},{"s":"MED","t":300,"v":37},{"s":"MED","t":350,"v":42},{"s":"MED","t":400,"v":49.5},{"s":"MED","t":450,"v":54.5},{"s":"MED","t":500,"v":59},{"s":"MED","t":550,"v":63},{"s":"MED","t":600,"v":66},{"s":"MED","t":650,"v":68.5},{"s":"MED","t":700,"v":71},{"s":"MED","t":750,"v":73},{"s":"MED","t":800,"v":75},{"s":"MED","t":850,"v":76.8},{"s":"MED","t":900,"v":78.5},{"s":"MED","t":950,"v":80.3},{"s":"MED","t":1000,"v":81.8},{"s":"MED","t":1050,"v":83.5},{"s":"MED","t":1100,"v":85.8},{"s":"MED","t":1150,"v":87},{"s":"MED","t":1200,"v":88.3},{"s":"MED","t":1250,"v":89.6},{"s":"MED","t":1300,"v":91},{"s":"MED","t":1350,"v":92.2},{"s":"MED","t":1400,"v":93.4},{"s":"MED","t":1450,"v":94.6},{"s":"MED","t":1500,"v":95.8},{"s":"MED","t":1550,"v":96.8},{"s":"MED","t":1600,"v":97.8},{"s":"MED","t":1650,"v":98.6},{"s":"MED","t":1700,"v":99.3},{"s":"MED","t":1750,"v":99.9},{"s":"MED","t":1800,"v":100.5},{"s":"MED","t":1850,"v":101},{"s":"MED","t":1900,"v":101.5},{"s":"MED","t":1950,"v":102},{"s":"MED","t":2000,"v":102.3},
  {"s":"SUP","t":0,"v":23.5},{"s":"SUP","t":50,"v":25},{"s":"SUP","t":100,"v":28},{"s":"SUP","t":150,"v":32.5},{"s":"SUP","t":200,"v":39.5},{"s":"SUP","t":250,"v":49},{"s":"SUP","t":300,"v":57.5},{"s":"SUP","t":350,"v":63.5},{"s":"SUP","t":400,"v":68.5},{"s":"SUP","t":450,"v":72.5},{"s":"SUP","t":500,"v":75},{"s":"SUP","t":550,"v":77.2},{"s":"SUP","t":600,"v":78.5},{"s":"SUP","t":650,"v":79.5},{"s":"SUP","t":700,"v":81.5},{"s":"SUP","t":750,"v":83},{"s":"SUP","t":800,"v":84.3},{"s":"SUP","t":850,"v":85.2},{"s":"SUP","t":900,"v":86},{"s":"SUP","t":950,"v":86.8},{"s":"SUP","t":985,"v":87.5},{"s":"SUP","t":995,"v":96.5},{"s":"SUP","t":1010,"v":95.5},{"s":"SUP","t":1050,"v":93.5},{"s":"SUP","t":1100,"v":92.5},{"s":"SUP","t":1150,"v":92.2},{"s":"SUP","t":1200,"v":93},{"s":"SUP","t":1250,"v":93.6},{"s":"SUP","t":1265,"v":94},{"s":"SUP","t":1275,"v":99.5},{"s":"SUP","t":1300,"v":98.8},{"s":"SUP","t":1350,"v":98.4},{"s":"SUP","t":1400,"v":98.8},{"s":"SUP","t":1450,"v":99.5},{"s":"SUP","t":1500,"v":100},{"s":"SUP","t":1550,"v":100.5},{"s":"SUP","t":1600,"v":101.5},{"s":"SUP","t":1650,"v":103},{"s":"SUP","t":1700,"v":104},{"s":"SUP","t":1750,"v":104.3},{"s":"SUP","t":1800,"v":104.5},{"s":"SUP","t":1850,"v":104.3},{"s":"SUP","t":1900,"v":103.8},{"s":"SUP","t":1950,"v":102},{"s":"SUP","t":2000,"v":100.5}
 ],
 "br": [
  {"s":"GASES","t":0,"v":25},{"s":"GASES","t":25,"v":63},{"s":"GASES","t":50,"v":90},{"s":"GASES","t":75,"v":112},{"s":"GASES","t":100,"v":140},{"s":"GASES","t":130,"v":176},{"s":"GASES","t":175,"v":222},{"s":"GASES","t":220,"v":252},{"s":"GASES","t":280,"v":275},{"s":"GASES","t":320,"v":285},{"s":"GASES","t":370,"v":292},{"s":"GASES","t":430,"v":300},{"s":"GASES","t":460,"v":303},{"s":"GASES","t":480,"v":298},{"s":"GASES","t":500,"v":291},{"s":"GASES","t":530,"v":285},{"s":"GASES","t":580,"v":278},{"s":"GASES","t":650,"v":266},{"s":"GASES","t":700,"v":248},{"s":"GASES","t":730,"v":238},{"s":"GASES","t":780,"v":226},{"s":"GASES","t":830,"v":216},{"s":"GASES","t":860,"v":213},{"s":"GASES","t":900,"v":220},{"s":"GASES","t":950,"v":230},{"s":"GASES","t":1000,"v":240},{"s":"GASES","t":1050,"v":246},{"s":"GASES","t":1100,"v":250},{"s":"GASES","t":1150,"v":254},{"s":"GASES","t":1200,"v":256},{"s":"GASES","t":1250,"v":255},{"s":"GASES","t":1300,"v":256},{"s":"GASES","t":1400,"v":255},{"s":"GASES","t":1500,"v":255},{"s":"GASES","t":1600,"v":258},{"s":"GASES","t":1700,"v":263},{"s":"GASES","t":1750,"v":265},{"s":"GASES","t":1800,"v":264},{"s":"GASES","t":1850,"v":262},{"s":"GASES","t":1900,"v":252},{"s":"GASES","t":1950,"v":233},{"s":"GASES","t":2000,"v":190},
  {"s":"SUP","t":0,"v":25},{"s":"SUP","t":50,"v":40},{"s":"SUP","t":100,"v":66},{"s":"SUP","t":150,"v":90},{"s":"SUP","t":200,"v":117},{"s":"SUP","t":250,"v":140},{"s":"SUP","t":300,"v":165},{"s":"SUP","t":330,"v":182},{"s":"SUP","t":345,"v":200},{"s":"SUP","t":355,"v":240},{"s":"SUP","t":365,"v":275},{"s":"SUP","t":380,"v":288},{"s":"SUP","t":400,"v":292},{"s":"SUP","t":440,"v":297},{"s":"SUP","t":470,"v":296},{"s":"SUP","t":500,"v":290},{"s":"SUP","t":520,"v":284},{"s":"SUP","t":560,"v":279},{"s":"SUP","t":600,"v":275},{"s":"SUP","t":650,"v":269},{"s":"SUP","t":680,"v":271},{"s":"SUP","t":700,"v":274},{"s":"SUP","t":720,"v":268},{"s":"SUP","t":760,"v":263},{"s":"SUP","t":800,"v":263},{"s":"SUP","t":850,"v":261},{"s":"SUP","t":900,"v":262},{"s":"SUP","t":950,"v":259},{"s":"SUP","t":980,"v":257},{"s":"SUP","t":1000,"v":260},{"s":"SUP","t":1050,"v":261},{"s":"SUP","t":1100,"v":262},{"s":"SUP","t":1150,"v":261},{"s":"SUP","t":1200,"v":262},{"s":"SUP","t":1250,"v":265},{"s":"SUP","t":1300,"v":268},{"s":"SUP","t":1350,"v":270},{"s":"SUP","t":1400,"v":272},{"s":"SUP","t":1450,"v":268},{"s":"SUP","t":1500,"v":269},{"s":"SUP","t":1550,"v":270},{"s":"SUP","t":1600,"v":273},{"s":"SUP","t":1650,"v":276},{"s":"SUP","t":1700,"v":279},{"s":"SUP","t":1750,"v":280},{"s":"SUP","t":1800,"v":279},{"s":"SUP","t":1850,"v":274},{"s":"SUP","t":1900,"v":265},{"s":"SUP","t":1950,"v":243},{"s":"SUP","t":2000,"v":192},
  {"s":"CENT","t":0,"v":23},{"s":"CENT","t":100,"v":22},{"s":"CENT","t":170,"v":25},{"s":"CENT","t":200,"v":30},{"s":"CENT","t":280,"v":46},{"s":"CENT","t":350,"v":62},{"s":"CENT","t":430,"v":80},{"s":"CENT","t":500,"v":96},{"s":"CENT","t":580,"v":113},{"s":"CENT","t":650,"v":127},{"s":"CENT","t":730,"v":140},{"s":"CENT","t":800,"v":152},{"s":"CENT","t":880,"v":163},{"s":"CENT","t":950,"v":172},{"s":"CENT","t":1030,"v":183},{"s":"CENT","t":1080,"v":192},{"s":"CENT","t":1110,"v":210},{"s":"CENT","t":1140,"v":232},{"s":"CENT","t":1170,"v":250},{"s":"CENT","t":1200,"v":256},{"s":"CENT","t":1250,"v":256},{"s":"CENT","t":1300,"v":254},{"s":"CENT","t":1400,"v":256},{"s":"CENT","t":1500,"v":255},{"s":"CENT","t":1600,"v":258},{"s":"CENT","t":1700,"v":262},{"s":"CENT","t":1750,"v":264},{"s":"CENT","t":1800,"v":263},{"s":"CENT","t":1850,"v":261},{"s":"CENT","t":1900,"v":251},{"s":"CENT","t":1950,"v":230},{"s":"CENT","t":2000,"v":178},
  {"s":"MED","t":0,"v":23},{"s":"MED","t":100,"v":24},{"s":"MED","t":130,"v":28},{"s":"MED","t":200,"v":50},{"s":"MED","t":280,"v":70},{"s":"MED","t":350,"v":90},{"s":"MED","t":430,"v":110},{"s":"MED","t":500,"v":126},{"s":"MED","t":580,"v":143},{"s":"MED","t":650,"v":160},{"s":"MED","t":730,"v":171},{"s":"MED","t":800,"v":179},{"s":"MED","t":880,"v":190},{"s":"MED","t":950,"v":196},{"s":"MED","t":1030,"v":202},{"s":"MED","t":1080,"v":210},{"s":"MED","t":1110,"v":225},{"s":"MED","t":1140,"v":243},{"s":"MED","t":1170,"v":255},{"s":"MED","t":1200,"v":257},{"s":"MED","t":1250,"v":256},{"s":"MED","t":1300,"v":255},{"s":"MED","t":1350,"v":255},{"s":"MED","t":1400,"v":256},{"s":"MED","t":1450,"v":254},{"s":"MED","t":1500,"v":255},{"s":"MED","t":1550,"v":256},{"s":"MED","t":1600,"v":258},{"s":"MED","t":1650,"v":260},{"s":"MED","t":1700,"v":263},{"s":"MED","t":1750,"v":265},{"s":"MED","t":1800,"v":264},{"s":"MED","t":1850,"v":262},{"s":"MED","t":1900,"v":252},{"s":"MED","t":1950,"v":232},{"s":"MED","t":2000,"v":185}
 ]
}
}
